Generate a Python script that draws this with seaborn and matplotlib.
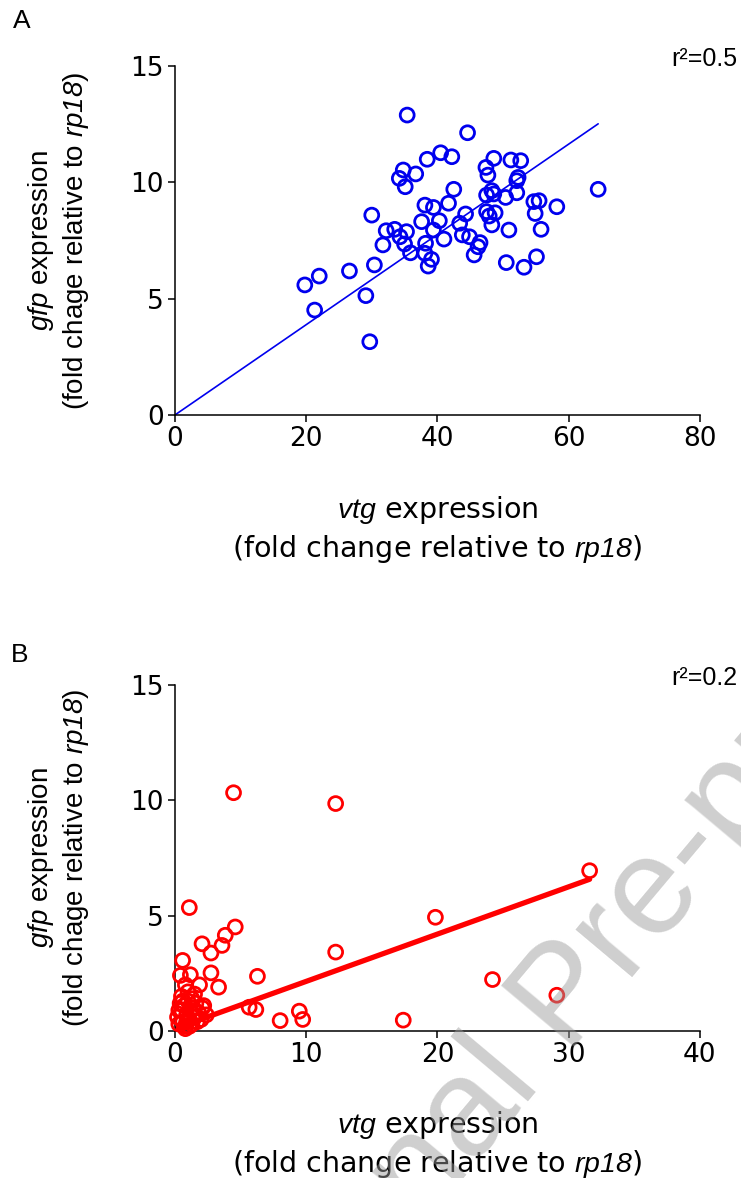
import numpy as np
import pandas as pd
import seaborn as sns
import matplotlib.pyplot as plt

# Panel A: vtg vs gfp (blue)
vtg_a = [35.4, 44.6, 38.45, 40.5, 42.2, 34.8, 36.7, 34.2, 35.1, 42.5, 41.7, 38.1, 39.4,
         30.0, 37.6, 40.3, 39.4, 44.3, 43.4, 32.2, 33.5, 35.3, 34.3, 31.7, 35.0, 35.9,
         38.2, 41.0, 38.1, 39.1, 38.6, 30.4, 26.6, 22.0, 19.8, 21.3, 29.1, 29.7, 43.8,
         44.9, 46.5, 45.6, 46.2, 47.4, 48.6, 47.7, 51.2, 52.7, 52.3, 52.1, 48.3, 47.5,
         48.6, 52.1, 50.4, 47.5, 48.8, 47.9, 48.3, 50.9, 54.7, 55.5, 54.9, 58.2, 55.8,
         50.5, 53.2, 55.1, 64.5]
gfp_a = [12.89, 12.13, 10.99, 11.27, 11.10, 10.53, 10.36, 10.17, 9.81, 9.70, 9.10, 9.02, 8.92,
         8.59, 8.31, 8.35, 7.95, 8.64, 8.24, 7.92, 7.98, 7.88, 7.66, 7.31, 7.35, 6.97,
         7.38, 7.56, 6.95, 6.69, 6.40, 6.45, 6.19, 5.97, 5.59, 4.51, 5.13, 3.15, 7.74,
         7.66, 7.41, 6.88, 7.23, 10.64, 11.03, 10.31, 10.96, 10.93, 10.21, 10.07, 9.64, 9.45,
         9.50, 9.55, 9.35, 8.74, 8.69, 8.55, 8.17, 7.95, 9.17, 9.21, 8.66, 8.95, 7.98,
         6.55, 6.35, 6.80, 9.70]
fit_a = (0.0, 0.194)  # intercept, slope
r2_a = "0.5"

# Panel B: vtg vs gfp (red)
vtg_b = [4.47, 12.25, 1.10, 4.6, 3.84, 3.59, 2.07, 2.75, 12.25, 0.59, 2.75, 6.29, 0.42,
         1.18, 0.80, 1.88, 3.33, 5.66, 6.17, 8.02, 9.48, 9.74, 31.6, 19.85, 24.2, 29.1,
         17.4,
         0.2, 0.3, 0.4, 0.5, 0.6, 0.7, 0.8, 0.9, 1.0, 1.1, 1.2, 1.3, 1.4, 1.5, 1.6, 1.8,
         2.0, 2.2, 2.4, 0.5, 0.8, 1.0, 1.3, 1.7, 0.3, 0.6, 1.1, 1.5, 2.1, 0.9]
gfp_b = [10.33, 9.86, 5.35, 4.51, 4.15, 3.71, 3.78, 3.38, 3.42, 3.06, 2.52, 2.37, 2.41,
         2.44, 2.00, 2.00, 1.90, 1.03, 0.93, 0.45, 0.86, 0.50, 6.95, 4.93, 2.23, 1.55,
         0.47,
         0.6, 0.3, 1.2, 0.9, 0.4, 1.1, 0.2, 0.7, 1.3, 0.5, 0.9, 0.3, 1.0, 0.6, 1.2, 0.8,
         0.5, 1.1, 0.7, 1.5, 0.1, 1.7, 1.4, 0.4, 0.9, 1.3, 0.2, 1.6, 1.0, 0.4]
fit_b = (0.10, 0.205)
r2_b = "0.2"

sns.set_style("ticks")
plt.rcParams['font.family'] = ['DejaVu Sans']
plt.rcParams['text.color'] = 'black'
plt.rcParams['axes.labelcolor'] = 'black'
plt.rcParams['xtick.color'] = 'black'
plt.rcParams['ytick.color'] = 'black'
plt.rcParams['mathtext.fontset'] = 'custom'
plt.rcParams['mathtext.rm'] = 'Liberation Sans:italic'
plt.rcParams['mathtext.it'] = 'Liberation Sans:italic'

fig = plt.figure(figsize=(7.41, 11.78), dpi=100)
ax_a = fig.add_axes([0.236, 0.6477, 0.7085, 0.2963])
ax_b = fig.add_axes([0.236, 0.1248, 0.7085, 0.2937])


def draw_panel(ax, x, y, fit, color, lw, xmax, xticks, r2, xstart=None):
    df = pd.DataFrame({'vtg': x, 'gfp': y})
    sns.scatterplot(data=df, x='vtg', y='gfp', ax=ax, marker='o', s=100,
                    facecolor='none', edgecolor=color, linewidth=2.0,
                    clip_on=False, zorder=3)
    x0 = df['vtg'].min() if xstart is None else xstart
    xl = np.array([x0, df['vtg'].max()])
    line = pd.DataFrame({'vtg': xl, 'gfp': fit[0] + fit[1] * xl})
    sns.lineplot(data=line, x='vtg', y='gfp', ax=ax, color=color, linewidth=lw, zorder=2)
    ax.set_xlim(0, xmax)
    ax.set_ylim(0, 15)
    ax.set_xticks(xticks)
    ax.set_yticks([0, 5, 10, 15])
    sns.despine(ax=ax)
    for s in ['left', 'bottom']:
        ax.spines[s].set_linewidth(1.1)
        ax.spines[s].set_color('black')
    ax.tick_params(labelsize=19, length=5, width=1.1, direction='out', pad=3)
    ax.set_ylabel('$gfp$ expression\n(fold chage relative to $rp18$)',
                  fontsize=20, fontfamily='Liberation Sans', linespacing=1.2)
    ax.yaxis.set_label_coords(-0.16, 0.5)
    ax.set_xlabel('$vtg$ expression\n(fold change relative to $rp18$)',
                  fontsize=20.5, linespacing=1.3)
    ax.xaxis.set_label_coords(0.5, -0.225)
    ax.text(1.072, 1.0, 'r\u00b2=' + r2, transform=ax.transAxes, ha='right', va='baseline',
            fontsize=18, fontfamily='Liberation Sans')


draw_panel(ax_a, vtg_a, gfp_a, fit_a, '#0000ee', 1.2, 80, [0, 20, 40, 60, 80], r2_a, xstart=0)
draw_panel(ax_b, vtg_b, gfp_b, fit_b, '#ff0000', 3.8, 40, [0, 10, 20, 30, 40], r2_b)

fig.text(13 / 741, 1 - 21 / 1178, 'A', fontsize=19, fontfamily='Liberation Sans', va='center')
fig.text(11 / 741, 1 - 655 / 1178, 'B', fontsize=19, fontfamily='Liberation Sans', va='center')

# watermark (starts below the page, only "nal Pre-p" shows)
fig.text(249.5 / 741, 1 - 1433 / 1178, 'Journal Pre-proof', fontsize=100,
         fontfamily='Liberation Sans', color='#9a9a9a', alpha=0.48, rotation=50,
         rotation_mode='anchor', ha='left', va='baseline', zorder=10)

fig.savefig('out.png', dpi=100)
